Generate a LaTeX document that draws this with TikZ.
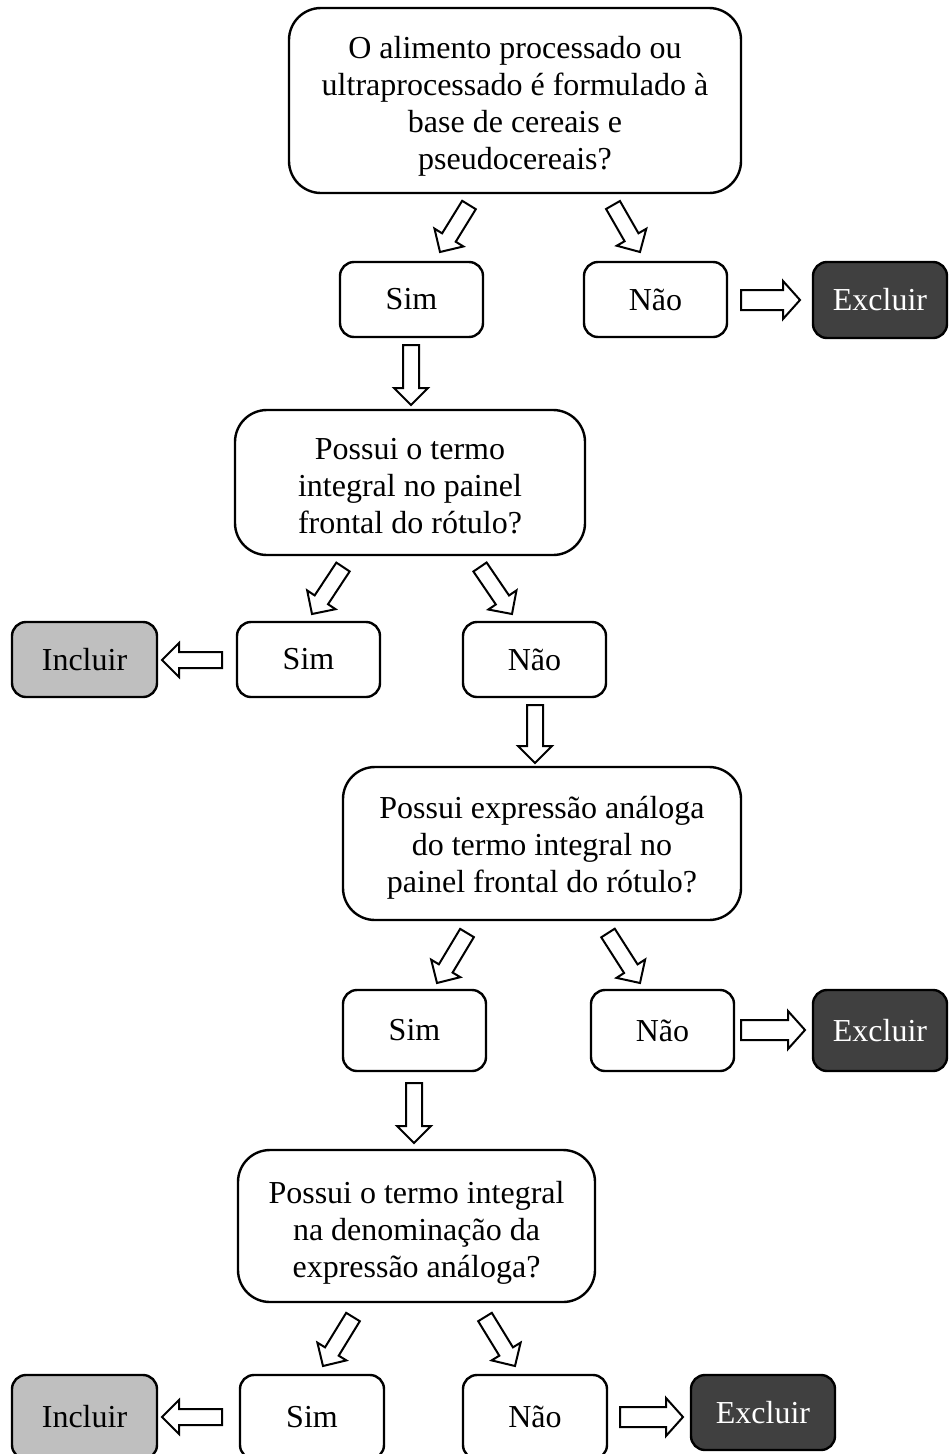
\documentclass[tikz,border=0pt]{standalone}
\usepackage{fontspec}
\setmainfont{Liberation Serif}
\usetikzlibrary{calc}
\definecolor{darkbox}{HTML}{404040}
\definecolor{lightbox}{HTML}{BFBFBF}
% #1 = half shaft width, #2 = start coordinate, #3 = end coordinate
\newcommand\blockarr[3][8]{%
  \coordinate (hb) at ($(#3)!17pt!(#2)$);
  \draw[barrow] ($(#2)!#1pt!90:(#3)$) -- ($(hb)!#1pt!90:(#3)$) -- ($(hb)!#1pt+9pt!90:(#3)$)
    -- (#3) -- ($(hb)!#1pt+9pt!-90:(#3)$) -- ($(hb)!#1pt!-90:(#3)$) -- ($(#2)!#1pt!-90:(#3)$) -- cycle;}
% lower a block of centred lines by half of #1
\newcommand\lowtext[2]{\raisebox{0pt}[\dimexpr\height+#1\relax][\depth]{\begin{tabular}{@{}c@{}}#2\end{tabular}}}
\begin{document}
\begin{tikzpicture}[x=1pt,y=-1pt,
  font=\fontsize{32}{37}\selectfont,
  box/.style={draw, line width=2.4pt, rounded corners=14pt, align=center, inner sep=0pt, fill=white},
  bigbox/.style={box, rounded corners=32pt},
  excl/.style={box, fill=darkbox, text=white},
  incl/.style={box, fill=lightbox},
  barrow/.style={draw, line width=2pt, fill=white, line join=miter}]
\useasboundingbox (0,0) rectangle (948,1454);
\clip (0,0) rectangle (948,1454);

% row 1
\node[bigbox, minimum width=452pt, minimum height=185pt] (q1) at (515,100.5)
  {\lowtext{13pt}{O alimento processado ou\\ultraprocessado é formulado à\\base de cereais e\\pseudocereais?}};
\node[box, minimum width=143pt, minimum height=75pt] (s1) at (411.5,299.5) {Sim};
\node[box, minimum width=143pt, minimum height=75pt] (n1) at (655.5,299.5) {Não};
\node[excl, minimum width=134pt, minimum height=76pt] (e1) at (880,300) {Excluir};

% row 2
\node[bigbox, minimum width=350pt, minimum height=145pt] (q2) at (410,482.5)
  {\lowtext{14pt}{Possui o termo\\integral no painel\\frontal do rótulo?}};
\node[box, minimum width=143pt, minimum height=75pt] (s2) at (308.5,659.5) {Sim};
\node[box, minimum width=143pt, minimum height=75pt] (n2) at (534.5,659.5) {Não};
\node[incl, minimum width=145pt, minimum height=75pt] (i1) at (84.5,659.5) {Incluir};

% row 3
\node[bigbox, minimum width=398pt, minimum height=153pt] (q3) at (542,843.5)
  {\lowtext{10pt}{Possui expressão análoga\\do termo integral no\\painel frontal do rótulo?}};
\node[box, minimum width=143pt, minimum height=81pt] (s3) at (414.5,1030.5) {Sim};
\node[box, minimum width=143pt, minimum height=81pt] (n3) at (662.5,1030.5) {Não};
\node[excl, minimum width=134pt, minimum height=81pt] (e2) at (880,1030.5) {Excluir};

% row 4
\node[bigbox, minimum width=357pt, minimum height=152pt] (q4) at (416.5,1226)
  {\lowtext{14pt}{Possui o termo integral\\na denominação da\\expressão análoga?}};
\node[box, minimum width=144pt, minimum height=84pt] (s4) at (312,1417) {Sim};
\node[box, minimum width=144pt, minimum height=84pt] (n4) at (535,1417) {Não};
\node[incl, minimum width=145pt, minimum height=84pt] (i2) at (84.5,1417) {Incluir};
\node[excl, minimum width=144pt, minimum height=75pt] (e3) at (763,1412.5) {Excluir};

% arrow end points
\coordinate (a1s) at (469,205);  \coordinate (a1e) at (440,252);
\coordinate (a2s) at (613,205);  \coordinate (a2e) at (640,252);
\coordinate (a3s) at (741,300);  \coordinate (a3e) at (800,300);
\coordinate (a4s) at (411,345);  \coordinate (a4e) at (411,405);
\coordinate (a5s) at (343,567);  \coordinate (a5e) at (312,614);
\coordinate (a6s) at (480,567);  \coordinate (a6e) at (512,614);
\coordinate (a7s) at (222,660);  \coordinate (a7e) at (162,660);
\coordinate (a8s) at (535,705);  \coordinate (a8e) at (535,763);
\coordinate (a9s) at (467,933);  \coordinate (a9e) at (437,983);
\coordinate (a10s) at (608,933); \coordinate (a10e) at (640,983);
\coordinate (a11s) at (741,1030); \coordinate (a11e) at (805,1030);
\coordinate (a12s) at (414,1083); \coordinate (a12e) at (414,1143);
\coordinate (a13s) at (353,1317); \coordinate (a13e) at (323,1366);
\coordinate (a14s) at (485,1317); \coordinate (a14e) at (515,1366);
\coordinate (a15s) at (222,1417); \coordinate (a15e) at (162,1417);
\coordinate (a16s) at (620,1417); \coordinate (a16e) at (683,1417);

\blockarr{a1s}{a1e}
\blockarr{a2s}{a2e}
\blockarr[10]{a3s}{a3e}
\blockarr{a4s}{a4e}
\blockarr{a5s}{a5e}
\blockarr{a6s}{a6e}
\blockarr{a7s}{a7e}
\blockarr{a8s}{a8e}
\blockarr{a9s}{a9e}
\blockarr{a10s}{a10e}
\blockarr[10]{a11s}{a11e}
\blockarr{a12s}{a12e}
\blockarr{a13s}{a13e}
\blockarr{a14s}{a14e}
\blockarr{a15s}{a15e}
\blockarr[10]{a16s}{a16e}
\end{tikzpicture}
\end{document}
